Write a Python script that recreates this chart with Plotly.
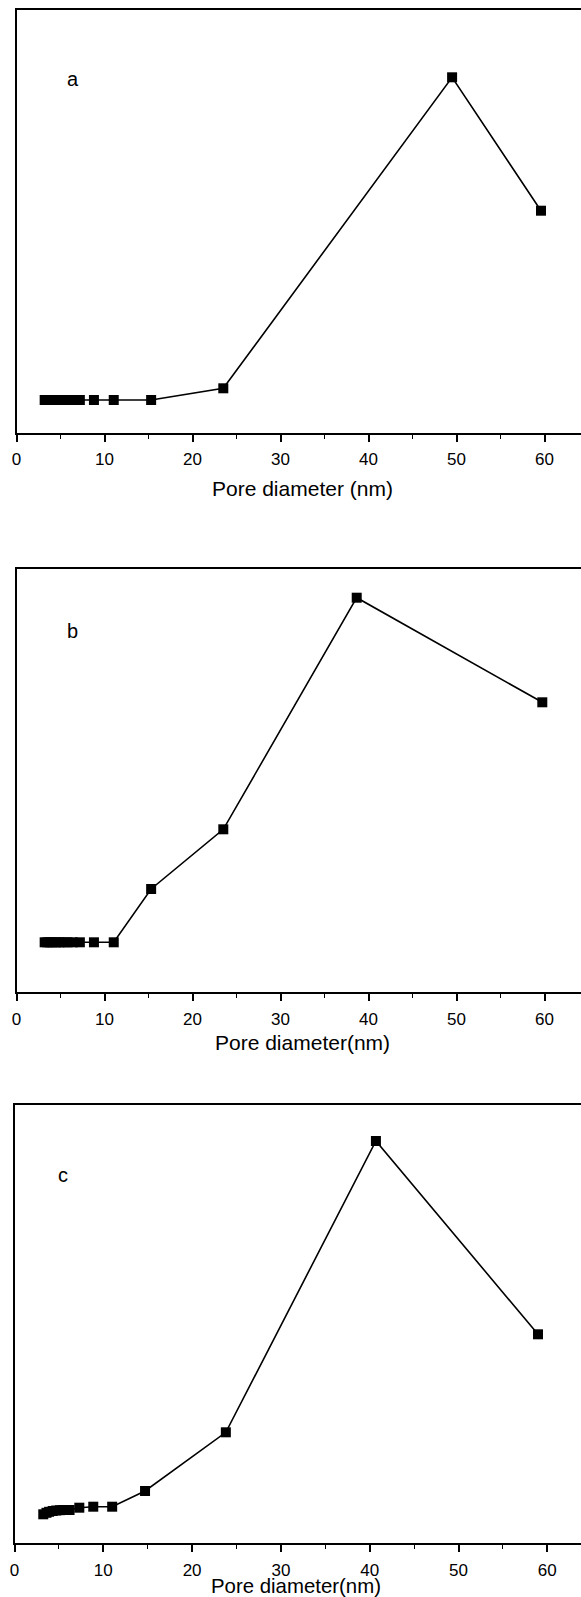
import plotly.graph_objects as go

# Panel a
a_x = [3.2, 3.5, 3.8, 4.1, 4.5, 4.9, 5.3, 5.8, 6.4, 7.2, 8.8, 11.05, 15.3, 23.5, 49.5, 59.6]
a_y = [33, 33, 33, 33, 33, 33, 33, 33, 33, 33, 33, 33, 33, 44.7, 355.7, 222.3]
# Panel b
b_x = [3.2, 3.5, 3.8, 4.1, 4.5, 4.9, 5.3, 5.8, 6.4, 7.2, 8.8, 11.05, 15.3, 23.5, 38.66, 59.75]
b_y = [50, 50, 50, 50, 50, 50, 50, 50, 50, 50, 50, 50, 103.3, 163, 394.6, 290]
# Panel c
c_x = [3.24, 3.6, 3.9, 4.3, 4.7, 5.1, 5.5, 5.9, 6.2, 7.3, 8.87, 11.0, 14.7, 23.8, 40.7, 58.95]
c_y = [29, 30.5, 31.5, 32.3, 32.8, 33.1, 33.3, 33.3, 33.3, 35.6, 36.6, 36.6, 52.3, 111, 402.3, 209]

panel_labels = ["a", "b", "c"]
x_titles = ["Pore diameter (nm)", "Pore diameter(nm)", "Pore diameter(nm)"]
x_tickvals = [0, 10, 20, 30, 40, 50, 60]

W, H = 581, 1597
FONT = "Liberation Sans, Arial, sans-serif"

def py(p):
    return (H - p) / H

# pixel geometry of each panel: (left, top, bottom, px_per_unit, ymax)
geo = [
    (16.5, 10.0, 433.0, 8.8, 423.0),
    (16.5, 569.3, 992.3, 8.8, 423.0),
    (14.5, 1105.0, 1543.3, 8.88, 438.3),
]
label_pos = [(73, 79), (72, 631), (63, 1175)]
title_pos = [(302, 488), (303, 1042), (296, 1585.5)]
title_size = [21, 21, 20.4]

fig = go.Figure()
data = [(a_x, a_y), (b_x, b_y), (c_x, c_y)]
annotations = []
for i, ((xs, ys), (left, top, bot, ppu, ymax)) in enumerate(zip(data, geo)):
    n = "" if i == 0 else str(i + 1)
    fig.add_trace(go.Scatter(
        x=xs, y=ys, mode="lines+markers",
        line=dict(color="black", width=1.6),
        marker=dict(symbol="square", size=10, color="black"),
        xaxis="x" + n, yaxis="y" + n, showlegend=False, cliponaxis=False,
    ))
    xmax = (W - left) / ppu
    fig.layout["xaxis" + n] = dict(
        domain=[left / W, 1.0], range=[0, xmax], anchor="y" + n,
        automargin=False,
        showline=True, linecolor="black", linewidth=1.8, mirror=True,
        ticks="outside", ticklen=7, tickwidth=1.5, tickcolor="black",
        tickvals=x_tickvals, showgrid=False, zeroline=False,
        ticklabelstandoff=3,
        tickfont=dict(family=FONT, size=17, color="black"),
        minor=dict(ticks="outside", ticklen=4, tickwidth=1.3, tickcolor="black",
                   dtick=5, tick0=0, showgrid=False),
    )
    fig.layout["yaxis" + n] = dict(
        domain=[py(bot), py(top)], range=[0, ymax], anchor="x" + n,
        automargin=False,
        showline=True, linecolor="black", linewidth=1.8, mirror=False,
        showticklabels=False, ticks="", showgrid=False, zeroline=False,
    )
    lx, ly = label_pos[i]
    annotations.append(dict(
        text=panel_labels[i], x=lx / W, y=py(ly), xref="paper", yref="paper",
        xanchor="center", yanchor="middle", showarrow=False,
        font=dict(family=FONT, size=20, color="black"),
    ))
    tx, ty = title_pos[i]
    annotations.append(dict(
        text=x_titles[i], x=tx / W, y=py(ty), xref="paper", yref="paper",
        xanchor="center", yanchor="middle", showarrow=False,
        font=dict(family=FONT, size=title_size[i], color="black"),
    ))

fig.update_layout(
    width=W, height=H, margin=dict(l=0, r=0, t=0, b=0, autoexpand=False),
    paper_bgcolor="white", plot_bgcolor="white",
    annotations=annotations,
)
fig.write_html(
    "out.html",
    config={"displayModeBar": False},
    post_script="document.body.style.margin='0';document.body.style.overflow='hidden';",
)
